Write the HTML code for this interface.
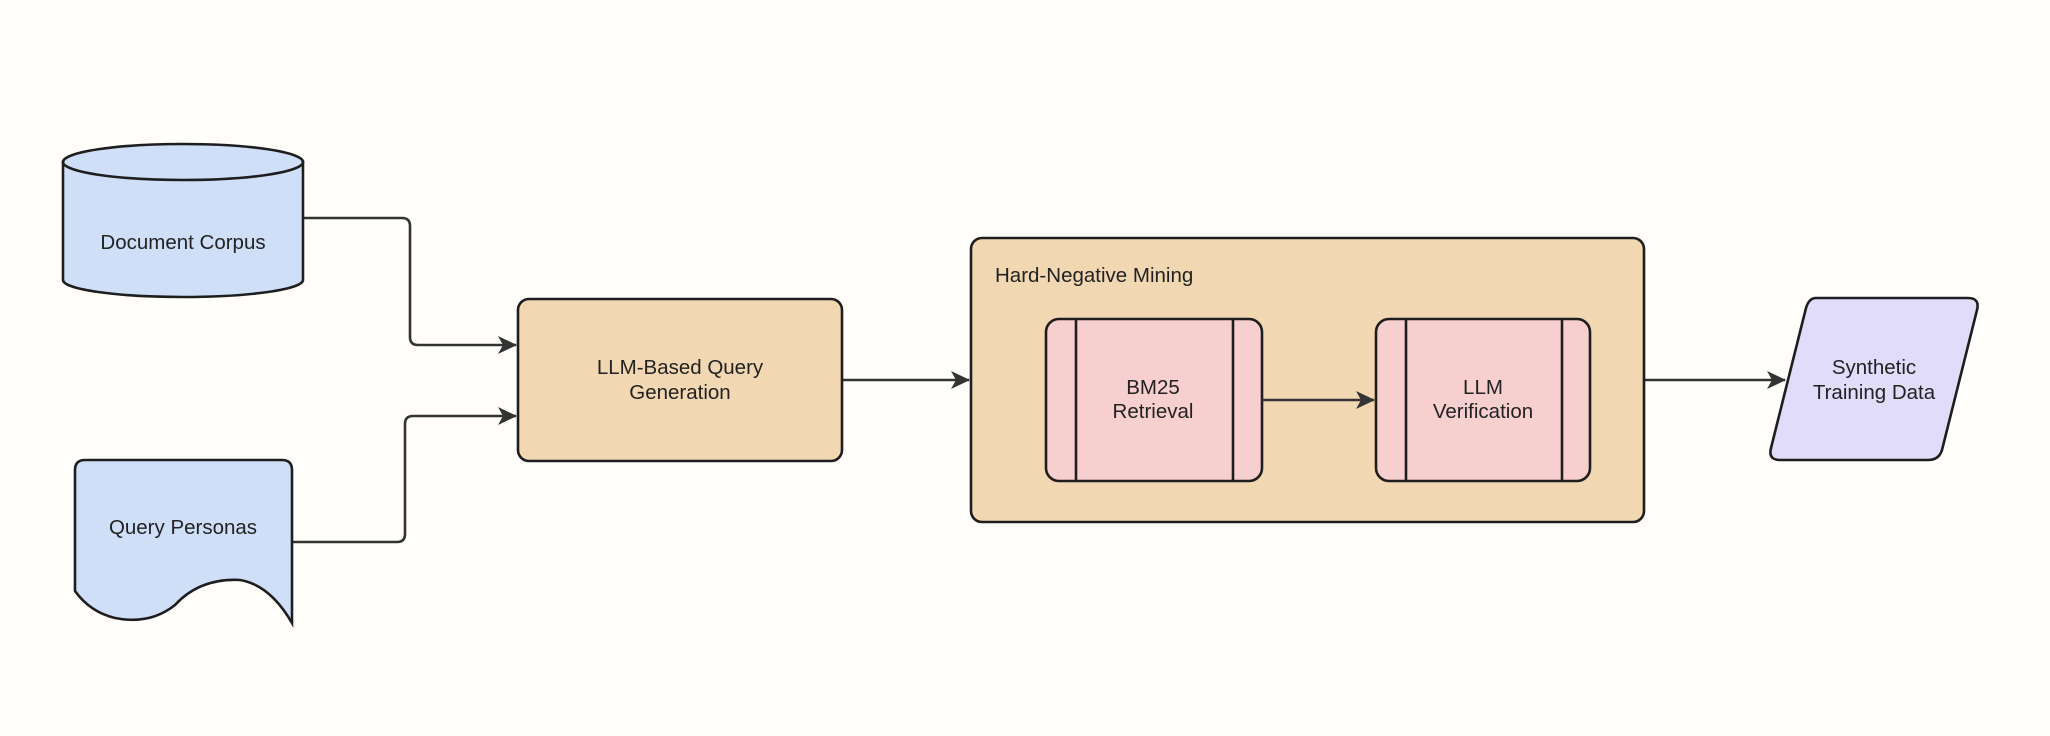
<!DOCTYPE html>
<html><head><meta charset="utf-8"><style>
html,body{margin:0;padding:0;background:#fffefb;}
svg{display:block}
text{font-family:"Liberation Sans",Arial,sans-serif;font-size:20.5px;fill:#222;}
</style></head><body>
<svg width="2050" height="736" viewBox="0 0 2050 736" xmlns="http://www.w3.org/2000/svg">
<defs>
<marker id="a" viewBox="0 0 20 20" markerWidth="20" markerHeight="20" refX="18" refY="10" orient="auto" markerUnits="userSpaceOnUse">
<path d="M0,1 L19,10 L0,19 L5,10 Z" fill="#333"/>
</marker>
</defs>
<g fill="none" stroke="#333" stroke-width="2.6">
<path d="M303,218 H402 Q410,218 410,226 V337 Q410,345 418,345 H516" marker-end="url(#a)"/>
<path d="M292,542 H397 Q405,542 405,534 V424 Q405,416 413,416 H516" marker-end="url(#a)"/>
<path d="M842,380 H969" marker-end="url(#a)"/>
<path d="M1644,380 H1785" marker-end="url(#a)"/>
</g>
<g stroke="#1e1e1e" stroke-width="2.6">
<path d="M63,162 V280 A120,17 0 0 0 303,280 V162 Z" fill="#cfdff8"/>
<ellipse cx="183" cy="162" rx="120" ry="18" fill="#cfdff8"/>
<path d="M75,470 Q75,460 85,460 H282 Q292,460 292,470 V623 Q270,585 240,580 Q200,578 175,605 Q150,625 115,618 Q90,612 75,591 Z" fill="#cfdff8"/>
<rect x="518" y="299" width="324" height="162" rx="11" fill="#f2d7b3"/>
<rect x="971" y="238" width="673" height="284" rx="11" fill="#f2d7b3"/>
<rect x="1046" y="319" width="216" height="162" rx="13" fill="#f8cfcf"/>
<line x1="1076" y1="319" x2="1076" y2="481"/>
<line x1="1233" y1="319" x2="1233" y2="481"/>
<rect x="1376" y="319" width="214" height="162" rx="13" fill="#f8cfcf"/>
<line x1="1406" y1="319" x2="1406" y2="481"/>
<line x1="1562" y1="319" x2="1562" y2="481"/>
<path d="M1816,298 H1968 Q1980,298 1977,310 L1942,450 Q1939,460 1928,460 H1780 Q1768,460 1771,448 L1806,308 Q1809,298 1816,298 Z" fill="#e0dcfa"/>
</g>
<path d="M1262,400 H1374" fill="none" stroke="#333" stroke-width="2.6" marker-end="url(#a)"/>
<text x="183" y="249" text-anchor="middle">Document Corpus</text>
<text x="183" y="534" text-anchor="middle">Query Personas</text>
<text x="680" y="374" text-anchor="middle">LLM-Based Query</text>
<text x="680" y="399" text-anchor="middle">Generation</text>
<text x="995" y="282">Hard-Negative Mining</text>
<text x="1153" y="394" text-anchor="middle">BM25</text>
<text x="1153" y="418" text-anchor="middle">Retrieval</text>
<text x="1483" y="394" text-anchor="middle">LLM</text>
<text x="1483" y="418" text-anchor="middle">Verification</text>
<text x="1874" y="374" text-anchor="middle">Synthetic</text>
<text x="1874" y="399" text-anchor="middle">Training Data</text>
</svg>
</body></html>
